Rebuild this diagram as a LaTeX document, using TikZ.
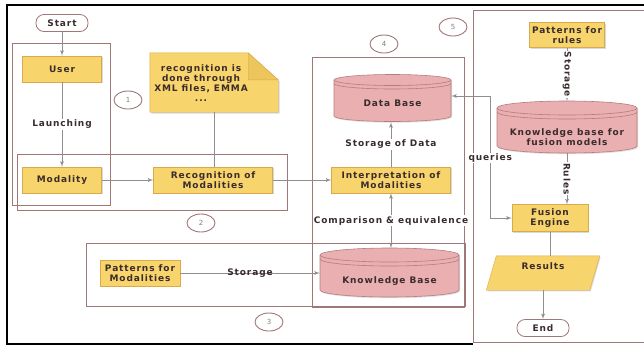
\documentclass[tikz,border=0pt]{standalone}
\usepackage{fontspec}
\setmainfont{DejaVu Sans}[LetterSpace=10]
\usepackage{tikz}
\usetikzlibrary{arrows,shapes.geometric,shadows}

\definecolor{boxfill}{HTML}{F8D46C}
\definecolor{boxline}{HTML}{D8AA4C}
\definecolor{foldfill}{HTML}{ECC55C}
\definecolor{cylfill}{HTML}{E9AFB1}
\definecolor{cylline}{HTML}{B47D7F}
\definecolor{grpline}{HTML}{A07777}
\definecolor{linkgray}{HTML}{8E8E8E}
\definecolor{txt}{HTML}{3A2C2C}
\newcommand{\boxfont}{\fontsize{9}{10}\selectfont\bfseries}

\begin{document}
\begin{tikzpicture}[x=1pt, y=-1pt,
            every node/.style={font=\boxfont, text=txt},
            terminal/.style={draw=grpline, line width=.8pt, fill=white, rounded corners=8pt,
                             minimum width=52pt, minimum height=17pt, inner sep=0pt},
            stepbox/.style={draw=boxline, fill=boxfill, minimum height=26pt, inner sep=1pt, align=center,
                            drop shadow={shadow xshift=1pt, shadow yshift=-1.2pt, opacity=.3}},
            databody/.style={draw=boxline, fill=boxfill,
                             drop shadow={shadow xshift=1pt, shadow yshift=-1.2pt, opacity=.3}},
            notebody/.style={draw=boxline, fill=boxfill,
                             drop shadow={shadow xshift=1.5pt, shadow yshift=-1.5pt, opacity=.3}},
            notefold/.style={draw=boxline, fill=foldfill},
            cylbody/.style={draw=cylline, fill=cylfill, line width=.6pt,
                            drop shadow={shadow xshift=1pt, shadow yshift=-1.2pt, opacity=.25}},
            cylrim/.style={draw=cylline, line width=.6pt},
            cyltext/.style={align=center, inner sep=0pt},
            num/.style={ellipse, draw=grpline, line width=.9pt, fill=white, minimum width=28pt,
                        minimum height=18pt, inner sep=0pt, font=\fontsize{7}{8}\selectfont, text=gray},
            group/.style={draw=grpline, line width=.8pt},
            link/.style={draw=linkgray, line width=.9pt},
            arr/.style={link, -latex'},
            arrboth/.style={link, latex'-latex'},
            tag/.style={fill=white, inner sep=1pt}]
        \useasboundingbox (0,0) rectangle (644,346);

        % the five groups
        \draw[group] (12,43) rectangle (110,205);
        \draw[group] (17,154) rectangle (287,210);
        \draw[group] (86,243) rectangle (465,306);
        \draw[group] (312,57) rectangle (464,307);
        \draw[group] (473,10) rectangle (660,342);
        \draw[line width=2.5pt] (660,5) -- (7,5) -- (7,344) -- (473,344);

        % data stores
        \path[cylbody] (334,80) -- (334,116) arc[start angle=180, end angle=360, x radius=58.5pt, y radius=5.5pt]
              -- (451,80) arc[start angle=0, end angle=180, x radius=58.5pt, y radius=5.5pt] -- cycle;
        \draw[cylrim] (334,80) arc[start angle=180, end angle=360, x radius=58.5pt, y radius=5.5pt];
        \draw[cylrim] (334,83.5) arc[start angle=180, end angle=360, x radius=58.5pt, y radius=5.5pt];
        \node[cyltext, minimum width=117pt, minimum height=38pt] (db) at (392.5,103) {Data Base};

        \path[cylbody] (320,255) -- (320,290) arc[start angle=180, end angle=360, x radius=69.5pt, y radius=7pt]
              -- (459,255) arc[start angle=0, end angle=180, x radius=69.5pt, y radius=7pt] -- cycle;
        \draw[cylrim] (320,255) arc[start angle=180, end angle=360, x radius=69.5pt, y radius=7pt];
        \draw[cylrim] (320,259) arc[start angle=180, end angle=360, x radius=69.5pt, y radius=7pt];
        \node[cyltext, minimum width=139pt, minimum height=32pt] (kb) at (389.5,281) {Knowledge Base};
        \coordinate (kbtop) at (389.5,248);

        \path[cylbody] (497,108) -- (497,146) arc[start angle=180, end angle=360, x radius=70pt, y radius=7pt]
              -- (637,108) arc[start angle=0, end angle=180, x radius=70pt, y radius=7pt] -- cycle;
        \draw[cylrim] (497,108) arc[start angle=180, end angle=360, x radius=70pt, y radius=7pt];
        \draw[cylrim] (497,112) arc[start angle=180, end angle=360, x radius=70pt, y radius=7pt];
        \node[cyltext, minimum width=140pt, minimum height=32pt] (kbf) at (567,137) {Knowledge base for\\fusion models};
        \coordinate (kbftop) at (567,101);

        % note
        \node[minimum width=128pt, minimum height=59pt] (note) at (214,82.5) {};
        \path[notebody] (note.south west) -- (note.north west) -- ([xshift=-30pt]note.north east)
              -- ([yshift=-27pt]note.north east) -- (note.south east) -- cycle;
        \path[notefold] ([xshift=-30pt]note.north east) -- ([xshift=-30pt,yshift=-27pt]note.north east)
              -- ([yshift=-27pt]note.north east) -- cycle;
        \node[align=center] (notetext) at (201,83) {recognition is\\done through\\XML files, EMMA\\...};

        % results
        \node[minimum width=103pt, minimum height=34pt, inner sep=0pt] (results) at (543,273) {};
        \path[databody] ([xshift=-5pt]results.south west) -- ([xshift=5pt]results.north west)
              -- ([xshift=5pt]results.north east) -- ([xshift=-5pt]results.south east) -- cycle;
        \node (resultstext) at (543,266) {Results};

        % steps
        \node[terminal] (start) at (62,23) {Start};
        \node[stepbox, minimum width=79pt] (user) at (62,69) {User};
        \node[stepbox, minimum width=79pt] (modality) at (62,180) {Modality};
        \node[stepbox, minimum width=119pt] (recog) at (213,180) {Recognition of\\Modalities};
        \node[stepbox, minimum width=119pt] (interp) at (391,180) {Interpretation of\\Modalities};
        \node[stepbox, minimum width=80pt] (patmod) at (140,273) {Patterns for\\Modalities};
        \node[stepbox, minimum width=75pt, minimum height=25pt] (patrules) at (567,35) {Patterns for\\rules};
        \node[stepbox, minimum width=76pt, minimum height=27pt] (fusion) at (550,218) {Fusion\\Engine};
        \node[terminal] (end) at (543,328) {End};

        % numbers
        \node[num] (n1) at (128,100) {1};
        \node[num] (n2) at (201,223) {2};
        \node[num] (n3) at (269,322) {3};
        \node[num] (n4) at (384,44) {4};
        \node[num] (n5) at (453,27) {5};

        % links
        \draw[arr] (start) -- (user);
        \draw[arr] (user) -- node[tag] {Launching} (modality);
        \draw[arr] (modality) -- (recog);
        \draw[link] (note.south) -- (note.south |- recog.north);
        \draw[arr] (recog) -- (interp);
        \draw[arr] (interp.north) -- node[tag] {Storage of Data} (interp.north |- db.south);
        \draw[arrboth] (interp.south) -- node[tag] {Comparison \& equivalence} (interp.south |- kbtop);
        \draw[arr] (patmod) -- node {Storage} (patmod -| kb.west);
        \draw[arr] (patrules) -- node[tag, rotate=-90] {Storage} (kbftop);
        \draw[arr] (kbf.south) -- node[tag, rotate=-90] {Rules} (kbf.south |- fusion.north);
        \draw[arrboth] ([yshift=7pt]db.east) -- ++(39,0) -- ++(0,62) node[tag] {queries} |- (fusion.west);
        \draw[link] (fusion.south) -- (fusion.south |- results.north);
        \draw[arr] (results.south) -- (end);
\end{tikzpicture}
\end{document}
